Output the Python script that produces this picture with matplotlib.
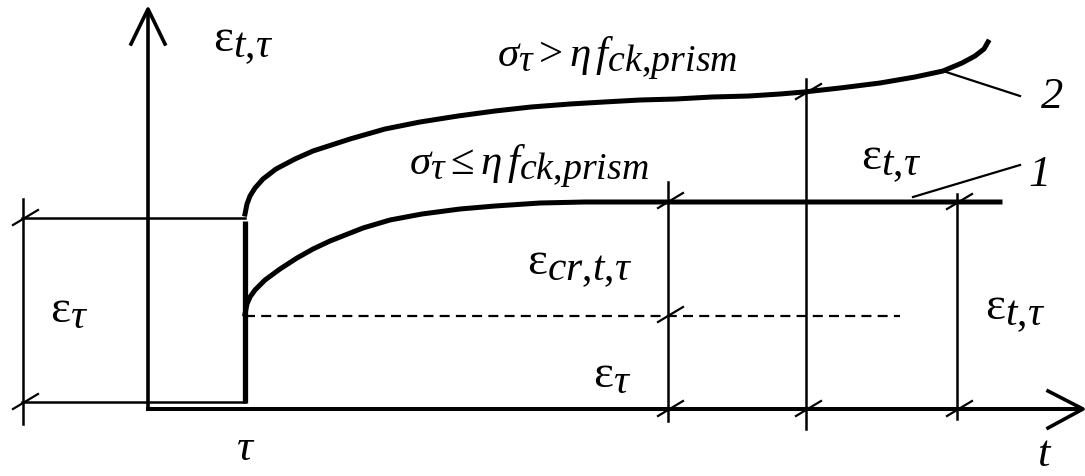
import matplotlib
matplotlib.use("Agg")
import matplotlib.pyplot as plt
import matplotlib._mathtext as mathtext_core

# ─────────────────────────────────────────────
#  Creep strain diagram ε(t, τ) — sketch coordinates in pixels
# ─────────────────────────────────────────────
plt.rcParams["mathtext.fontset"] = "custom"
plt.rcParams["mathtext.rm"] = "Liberation Serif"
plt.rcParams["mathtext.it"] = "Liberation Serif:italic"
plt.rcParams["mathtext.bf"] = "Liberation Serif:bold"
# indices are set nearly as large as the main symbol in this drawing
mathtext_core.SHRINK_FACTOR = 0.88

W, H = 1085, 477

# curve 2: σ_τ > η f_ck,prism (non-linear creep, grows without bound)
curve2_x = [245, 247, 250, 255, 263, 276, 295, 313, 350, 385, 420, 458, 495,
            531, 570, 604, 640, 676, 712, 749, 780, 804, 840, 880, 915, 943,
            962, 975, 984, 988]
curve2_y = [215, 205, 197, 189, 180, 170, 160, 152, 140, 130, 123, 117, 112,
            108, 105, 103, 101, 100, 98, 97, 95, 93, 89, 84, 78, 72,
            64, 57, 50, 43]

# curve 1: σ_τ ≤ η f_ck,prism (linear creep, levels off)
curve1_x = [245, 247, 250, 255, 265, 280, 297, 313, 330, 363, 390, 422, 460,
            495, 540, 585, 640, 700, 800, 900, 1000]
curve1_y = [315, 305, 298, 291, 281, 270, 259, 250, 242, 229, 221, 215, 210,
            207, 204, 203, 203, 203, 203, 203, 203]

# instantaneous strain step at τ
step_x = [245, 245]
step_y = [222, 404]

# dimension lines: (x, y_top, y_bottom) and their tick marks
dim_lines = [(23, 200, 425), (668, 183, 422), (806, 80, 430), (957, 195, 420)]
dim_ticks = [(23, 219), (23, 403), (668, 202), (668, 316), (668, 410),
             (806, 93), (806, 410), (957, 203), (957, 410)]

# leader lines for curve numbers
leaders = [((943, 72), (1020, 97)), ((913, 198), (1020, 166))]

fig = plt.figure(figsize=(W / 100, H / 100), dpi=100, facecolor="white")
ax = fig.add_axes([0, 0, 1, 1])
ax.set_xlim(0, W)
ax.set_ylim(H, 0)
ax.axis("off")

ink = "black"

# axes with open arrow heads
ax.plot([148, 148], [10, 411], color=ink, lw=2.6, solid_capstyle="butt")
ax.plot([131, 148, 165], [45, 10, 45], color=ink, lw=2.6)
ax.plot([146, 1082], [410, 410], color=ink, lw=2.9, solid_capstyle="butt")
ax.plot([1048, 1083, 1048], [392, 410, 429], color=ink, lw=2.6)

# rectangle for the elastic part ε_τ
ax.plot([22, 245], [219, 219], color=ink, lw=1.8)
ax.plot([22, 245], [403, 403], color=ink, lw=1.8)

# dimension lines and ticks
for x, y0, y1 in dim_lines:
    ax.plot([x, x], [y0, y1], color=ink, lw=1.8)
for x, y in dim_ticks:
    ax.plot([x - 10, x + 15], [y + 7, y - 8], color=ink, lw=1.6)

# dashed reference level ε_τ
ax.plot([245, 900], [317, 317], color=ink, lw=1.6, dashes=(4.5, 2.8))

# strain curves
ax.plot(step_x, step_y, color=ink, lw=3.8, solid_capstyle="butt")
ax.plot(curve1_x, curve1_y, color=ink, lw=3.6, solid_joinstyle="round")
ax.plot(curve2_x, curve2_y, color=ink, lw=3.6, solid_joinstyle="round")

for (x0, y0), (x1, y1) in leaders:
    ax.plot([x0, x1], [y0, y1], color=ink, lw=1.6)

# labels ({,} keeps the index commas tight)
eps = r"\mathrm{\varepsilon}"
lbl = dict(color=ink, ha="center", va="center")
num = dict(color=ink, ha="center", va="center", family="Liberation Serif",
           style="italic", fontsize=32)
ax.text(243, 45, rf"${eps}_{{t{{,}}\tau}}$", fontsize=34, **lbl)
ax.text(617, 58, r"$\sigma_{\tau} > \eta\, f_{ck{,}prism}$", fontsize=31, **lbl)
ax.text(529, 166, r"$\sigma_{\tau} \leq \eta\, f_{ck{,}prism}$", fontsize=31, **lbl)
ax.text(891, 163, rf"${eps}_{{t{{,}}\tau}}$", fontsize=34, **lbl)
ax.text(580, 268, rf"${eps}_{{cr{{,}}t{{,}}\tau}}$", fontsize=34, **lbl)
ax.text(612, 375, rf"${eps}_{{\tau}}$", fontsize=34, **lbl)
ax.text(69, 310, rf"${eps}_{{\tau}}$", fontsize=34, **lbl)
ax.text(1015, 313, rf"${eps}_{{t{{,}}\tau}}$", fontsize=34, **lbl)
ax.text(246, 448, r"$\tau$", fontsize=32, **lbl)
ax.text(1045, 454, r"$t$", fontsize=32, **lbl)
ax.text(1052, 97, "2", **num)
ax.text(1040, 175, "1", **num)

fig.savefig("out.png", dpi=100, facecolor="white")
